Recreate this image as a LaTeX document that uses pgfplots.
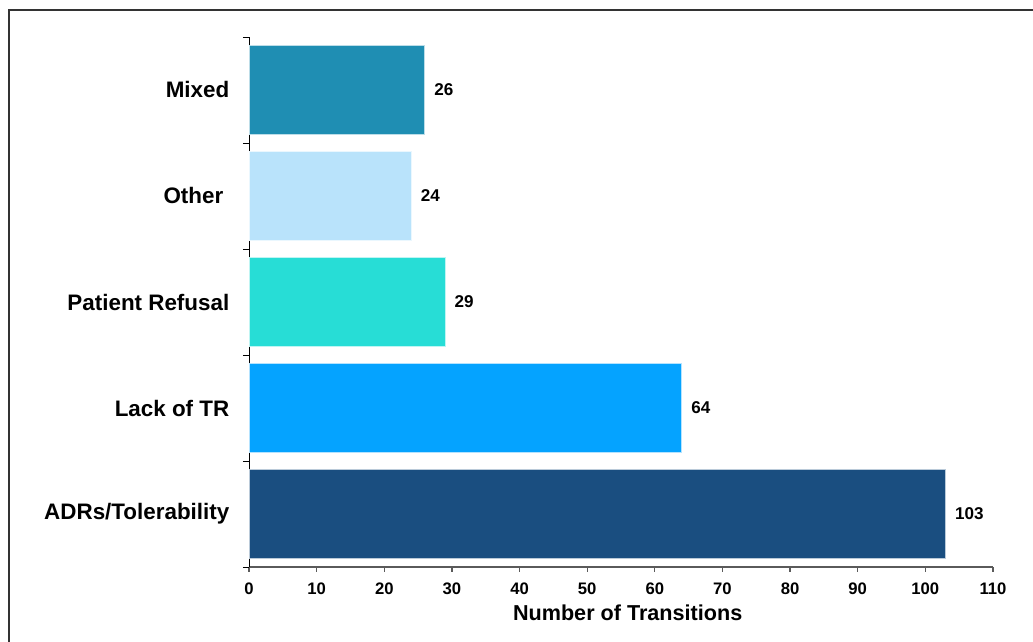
\documentclass[border=0pt]{standalone}
\usepackage{pgfplots}
\pgfplotsset{compat=1.18}
\usepackage{fontspec}
\setmainfont{Liberation Sans}
\definecolor{cMixed}{HTML}{1F8EB3}
\definecolor{cOther}{HTML}{B9E3FB}
\definecolor{cRef}{HTML}{27DDD6}
\definecolor{cLack}{HTML}{05A3FF}
\definecolor{cADR}{HTML}{1A4E80}
\definecolor{axgray}{HTML}{5A5A5A}
\begin{document}
\begin{tikzpicture}
\useasboundingbox (0pt,0pt) rectangle (774.75pt,481.5pt);
\draw[line width=1.3pt, color=black!80] (6.75pt,-10pt) -- (6.75pt,474pt) -- (790pt,474pt);
\begin{axis}[
  at={(186.75pt,56.25pt)}, anchor=south west,
  scale only axis,
  width=558pt, height=397.5pt,
  xmin=0, xmax=110,
  ymin=-0.5, ymax=4.5,
  axis x line*=bottom, axis y line*=left,
  x axis line style={line width=1.5pt, color=axgray, -},
  y axis line style={line width=0.7pt, color=black, -},
  tick align=outside,
  xtick={0,10,...,110},
  x tick style={line width=1pt, color=axgray},
  major tick length=3.75pt,
  ytick={0,1,2,3,4},
  yticklabels={ADRs/Tolerability, Lack of TR, Patient Refusal, Other\hspace*{4.5pt}, Mixed},
  y tick style={draw=none},
  minor ytick={-0.5,0.5,1.5,2.5,3.5,4.5},
  minor y tick style={draw=black, line width=0.7pt},
  minor tick length=4.5pt,
  /pgf/number format/assume math mode=true,
  xticklabel style={font=\bfseries\fontsize{12.5}{15}\selectfont, yshift=-4.5pt},
  yticklabel style={font=\bfseries\fontsize{16.8}{19}\selectfont, xshift=-7.5pt},
  xlabel={Number of Transitions},
  xlabel style={font=\bfseries\fontsize{16.2}{19}\selectfont, at={(axis description cs:0.5,0)}, anchor=center, yshift=-34pt, xshift=5pt},
  xbar, bar width=66.75pt, bar shift=0pt,
  nodes near coords,
  nodes near coords style={font=\bfseries\fontsize{12.8}{15}\selectfont, anchor=west, xshift=3.5pt, color=black},
  clip=false,
]
\addplot[fill=cADR, draw=white!70!cADR, line width=0.6pt] coordinates {(103,0)};
\addplot[fill=cLack, draw=white!70!cLack, line width=0.6pt] coordinates {(64,1)};
\addplot[fill=cRef, draw=white!70!cRef, line width=0.6pt] coordinates {(29,2)};
\addplot[fill=cOther, draw=white!70!cOther, line width=0.6pt] coordinates {(24,3)};
\addplot[fill=cMixed, draw=white!70!cMixed, line width=0.6pt] coordinates {(26,4)};
\end{axis}
\end{tikzpicture}
\end{document}
